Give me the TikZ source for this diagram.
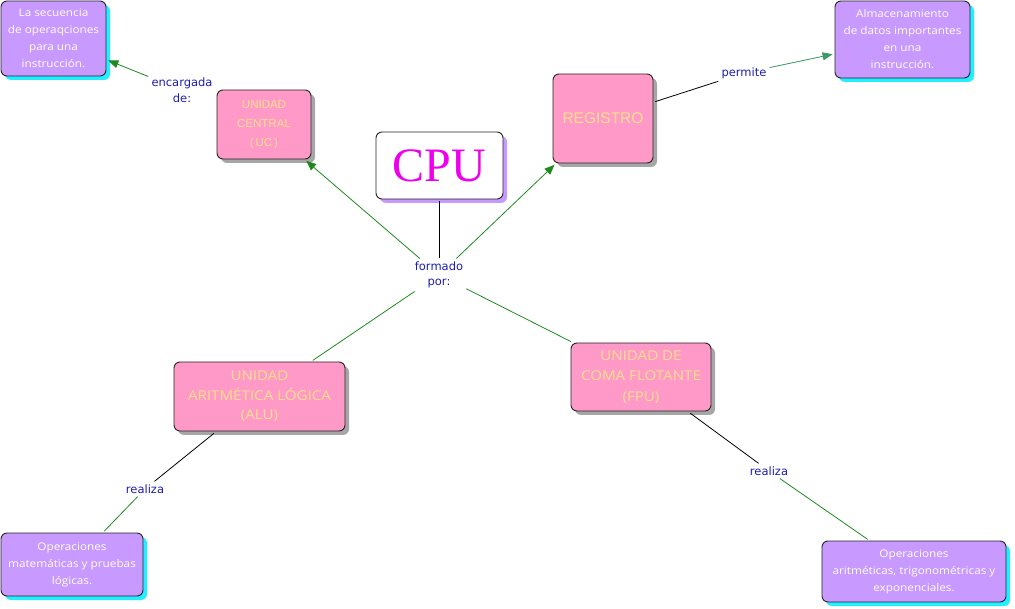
\documentclass[tikz,border=0pt]{standalone}
\usepackage{fontspec}
\setmainfont{Liberation Serif}
\newfontfamily\comicf[FakeStretch=1.12]{Open Sans}
\newfontfamily\arialf{Liberation Sans}
\newfontfamily\verdf{DejaVu Sans}
\usetikzlibrary{arrows.meta,shadows}
\definecolor{pinkf}{HTML}{FF99C8}
\definecolor{purpf}{HTML}{C899FF}
\definecolor{cyansh}{HTML}{22EEFF}
\definecolor{yeltxt}{HTML}{FFE08A}
\definecolor{lblue}{HTML}{1C1CB8}
\definecolor{gline}{HTML}{1E8A1E}
\definecolor{gline2}{HTML}{3A9A6A}
\definecolor{magtxt}{HTML}{EE00EE}
\begin{document}
\begin{tikzpicture}[x=1pt,y=-1pt,
  basebox/.style={draw=black!85,line width=0.9pt,rounded corners=6pt,inner sep=2pt,align=center},
  pinkbox/.style={basebox,fill=pinkf,text=yeltxt,drop shadow={shadow xshift=4pt,shadow yshift=-4pt,fill=black!35,opacity=1}},
  purpbox/.style={basebox,fill=purpf,text=white,font=\comicf\fontsize{10.5}{17}\selectfont,drop shadow={shadow xshift=4pt,shadow yshift=-4pt,fill=cyansh,opacity=1}},
  cpubox/.style={basebox,fill=white,text=magtxt,font=\fontsize{48}{50}\selectfont,drop shadow={shadow xshift=4pt,shadow yshift=-4pt,fill=purpf,opacity=1}},
  lbl/.style={text=lblue,font=\verdf\fontsize{11.5}{15.5}\selectfont,align=center,inner sep=3pt},
  blk/.style={draw=black,line width=0.8pt},
  grn/.style={draw=gline,line width=0.8pt},
  garr/.style={grn,-{Triangle[length=10pt,width=8pt]}},
  garr2/.style={draw=gline2,line width=0.8pt,-{Triangle[length=10pt,width=8pt]},fill=gline2}
]
\useasboundingbox (0,0) rectangle (1015,609);
% concepts
\node[cpubox,minimum width=127,minimum height=67] (cpu) at (439.5,165.5) {CPU};
\node[pinkbox,minimum width=94,minimum height=69,font=\arialf\fontsize{11.5}{19}\selectfont] (uc) at (264,124.5) {UNIDAD\\CENTRAL\\(\,UC\,)};
\node[pinkbox,minimum width=100,minimum height=89,font=\arialf\fontsize{15.5}{18}\selectfont] (reg) at (603,118.5) {REGISTRO};
\node[pinkbox,minimum width=171,minimum height=69,font=\comicf\fontsize{13.5}{19.5}\selectfont] (alu) at (259.5,396.5) {UNIDAD\\ARITMÉTICA LÓGICA\\(ALU)};
\node[pinkbox,minimum width=140,minimum height=68,font=\comicf\fontsize{13.5}{20.5}\selectfont] (fpu) at (641,377) {UNIDAD DE\\COMA FLOTANTE\\(FPU)};
\node[purpbox,minimum width=105,minimum height=75] (tl) at (53.5,38.5) {La secuencia\\de operaqciones\\para una\\instrucción.};
\node[purpbox,minimum width=135,minimum height=77] (tr) at (902.5,39.5) {Almacenamiento\\de datos importantes\\en una\\instrucción.};
\node[purpbox,minimum width=142,minimum height=63] (bl) at (72,564.5) {Operaciones\\matemáticas y pruebas\\lógicas.};
\node[purpbox,minimum width=184,minimum height=61] (br) at (914,571.5) {Operaciones\\aritméticas, trigonométricas y\\exponenciales.};
% linking phrases
\node[lbl] (form) at (439,275) {formado\\por:};
\node[lbl] (enc) at (182,90) {encargada\\de:};
\node[lbl] (perm) at (744,73) {permite};
\node[lbl] (real1) at (145,489) {realiza};
\node[lbl] (real2) at (769,471) {realiza};
% connectors
\draw[blk,shorten <=2pt] (cpu.south) -- (cpu.south |- form.north);
\draw[garr,shorten >=2pt] (form) -- (uc);
\draw[garr,shorten >=2pt] (form) -- (reg);
\draw[grn,shorten >=2pt] (form) -- (alu);
\draw[grn,shorten >=2pt] (form) -- (fpu);
\draw[garr,shorten >=2pt] (enc) -- (tl);
\draw[blk,shorten <=2pt] (reg) -- (perm);
\draw[garr2,shorten >=2pt] (perm) -- (tr);
\draw[blk,shorten <=3pt] (alu) -- (real1);
\draw[grn,shorten >=2pt] (real1) -- (bl);
\draw[blk,shorten <=3pt] (fpu) -- (real2);
\draw[grn,shorten >=2pt] (real2) -- (br);
\end{tikzpicture}
\end{document}
